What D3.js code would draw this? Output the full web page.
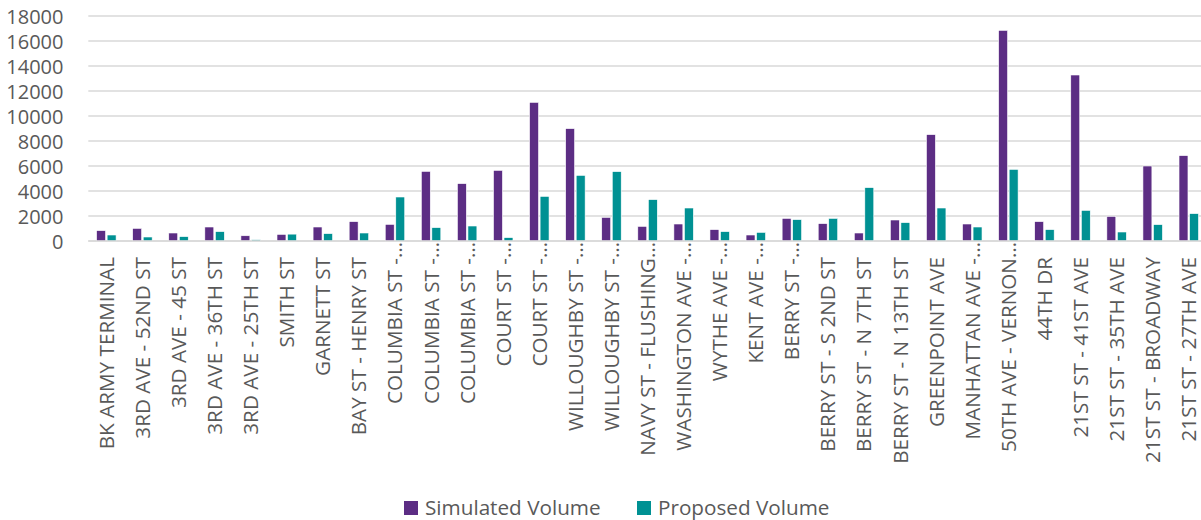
<!DOCTYPE html>
<html>
<head>
<meta charset="utf-8">
<script src="https://cdn.jsdelivr.net/npm/d3@7"></script>
<style>
  html, body { margin: 0; padding: 0; background: #fff; }
  svg { display: block; font-family: "Open Sans", "Noto Sans", sans-serif; }
</style>
</head>
<body>
<svg id="chart" width="1201" height="520"></svg>
<script>
// Intersection labels (as shown on the axis)
const categories = [
  "BK ARMY TERMINAL", "3RD AVE - 52ND ST", "3RD AVE - 45 ST", "3RD AVE - 36TH ST",
  "3RD AVE - 25TH ST", "SMITH ST", "GARNETT ST", "BAY ST - HENRY ST",
  "COLUMBIA ST -…", "COLUMBIA ST -…", "COLUMBIA ST -…", "COURT ST -…", "COURT ST -…",
  "WILLOUGHBY ST -…", "WILLOUGHBY ST -…", "NAVY ST - FLUSHING…", "WASHINGTON AVE -…",
  "WYTHE AVE -…", "KENT AVE -…", "BERRY ST -…", "BERRY ST - S 2ND ST",
  "BERRY ST - N 7TH ST", "BERRY ST - N 13TH ST", "GREENPOINT AVE", "MANHATTAN AVE -…",
  "50TH AVE - VERNON…", "44TH DR", "21ST ST - 41ST AVE", "21ST ST - 35TH AVE",
  "21ST ST - BROADWAY", "21ST ST - 27TH AVE"
];

const simulatedVolume = [
  830, 1010, 640, 1120, 420, 530, 1120, 1550,
  1330, 5570, 4590, 5650, 11090,
  8990, 1890, 1170, 1360,
  910, 480, 1810, 1390,
  640, 1680, 8510, 1360,
  16850, 1550, 13280, 1970,
  6000, 6830
];

const proposedVolume = [
  480, 320, 350, 750, 100, 550, 590, 640,
  3520, 1070, 1200, 270, 3570,
  5250, 5550, 3310, 2640,
  750, 690, 1710, 1810,
  4270, 1470, 2640, 1120,
  5730, 910, 2450, 720,
  1310, 2190
];

const seriesNames = ["Simulated Volume", "Proposed Volume"];
const seriesColors = ["#5c2d84", "#009193"];
const yTicks = [0, 2000, 4000, 6000, 8000, 10000, 12000, 14000, 16000, 18000];

const rows = categories.map((c, i) => ({ i, cat: c, values: [simulatedVolume[i], proposedVolume[i]] }));

const svg = d3.select("#chart");
const W = 1201;
const plot = { left: 88.3, right: 1206.8, top: 16, bottom: 241 };
const textColor = "#595959";
const gridColor = "#d9d9d9";

const x0 = d3.scaleBand()
  .domain(d3.range(categories.length))
  .range([plot.left, plot.right])
  .paddingInner(0.46)
  .paddingOuter(0.23);

const x1 = d3.scaleBand()
  .domain([0, 1])
  .range([0, x0.bandwidth()])
  .paddingInner(0.15);

const y = d3.scaleLinear().domain([0, 18000]).range([plot.bottom, plot.top]);

// Horizontal gridlines
svg.append("g")
  .selectAll("line")
  .data(yTicks)
  .join("line")
  .attr("x1", plot.left)
  .attr("x2", W)
  .attr("y1", d => y(d))
  .attr("y2", d => y(d))
  .attr("stroke", gridColor)
  .attr("stroke-width", 1.3);

// Y axis labels
const yAxis = d3.axisLeft(y).tickValues(yTicks).tickSize(0).tickPadding(0).tickFormat(d3.format("d"));
const gy = svg.append("g")
  .attr("transform", `translate(63.5,0)`)
  .call(yAxis);
gy.select(".domain").remove();
gy.selectAll("text")
  .attr("fill", textColor)
  .style("font-size", "20px")
  .style("font-family", "'Open Sans', sans-serif")
  .attr("dy", "0.36em");

// Bars
const groups = svg.append("g")
  .selectAll("g")
  .data(rows)
  .join("g")
  .attr("transform", d => `translate(${x0(d.i)},0)`);

groups.selectAll("rect")
  .data(d => d.values.map((v, s) => ({ v, s })))
  .join("rect")
  .attr("x", d => x1(d.s))
  .attr("width", x1.bandwidth())
  .attr("y", d => y(d.v))
  .attr("height", d => y(0) - y(d.v))
  .attr("fill", d => seriesColors[d.s])
  .attr("stroke", "#ffffff")
  .attr("stroke-width", 0.6);

// Category axis
const xAxis = d3.axisBottom(x0).tickSize(0).tickFormat(i => categories[i]);
const gx = svg.append("g")
  .attr("transform", `translate(0,${plot.bottom})`)
  .call(xAxis);
gx.select(".domain").attr("stroke", gridColor).attr("stroke-width", 1.3)
  .attr("d", `M${plot.left},0H${W}`);
gx.selectAll("text")
  .attr("fill", textColor)
  .style("font-size", "20.7px")
  .style("font-family", "'Open Sans', sans-serif")
  .attr("text-anchor", "end")
  .attr("transform", function(i) {
    const truncated = categories[i].endsWith("…");
    return `translate(0,${truncated ? 1 : 16}) rotate(-90)`;
  })
  .attr("x", 0)
  .attr("y", 0)
  .attr("dx", 0)
  .attr("dy", "0.36em");

// Legend
const legendItems = [
  { name: seriesNames[0], color: seriesColors[0], x: 404 },
  { name: seriesNames[1], color: seriesColors[1], x: 637 }
];
const lg = svg.append("g");
legendItems.forEach(item => {
  lg.append("rect")
    .attr("x", item.x).attr("y", 501)
    .attr("width", 14).attr("height", 14)
    .attr("fill", item.color);
  lg.append("text")
    .attr("x", item.x + 21).attr("y", 515)
    .attr("fill", textColor)
    .style("font-size", "20.7px")
    .text(item.name);
});
</script>
</body>
</html>
